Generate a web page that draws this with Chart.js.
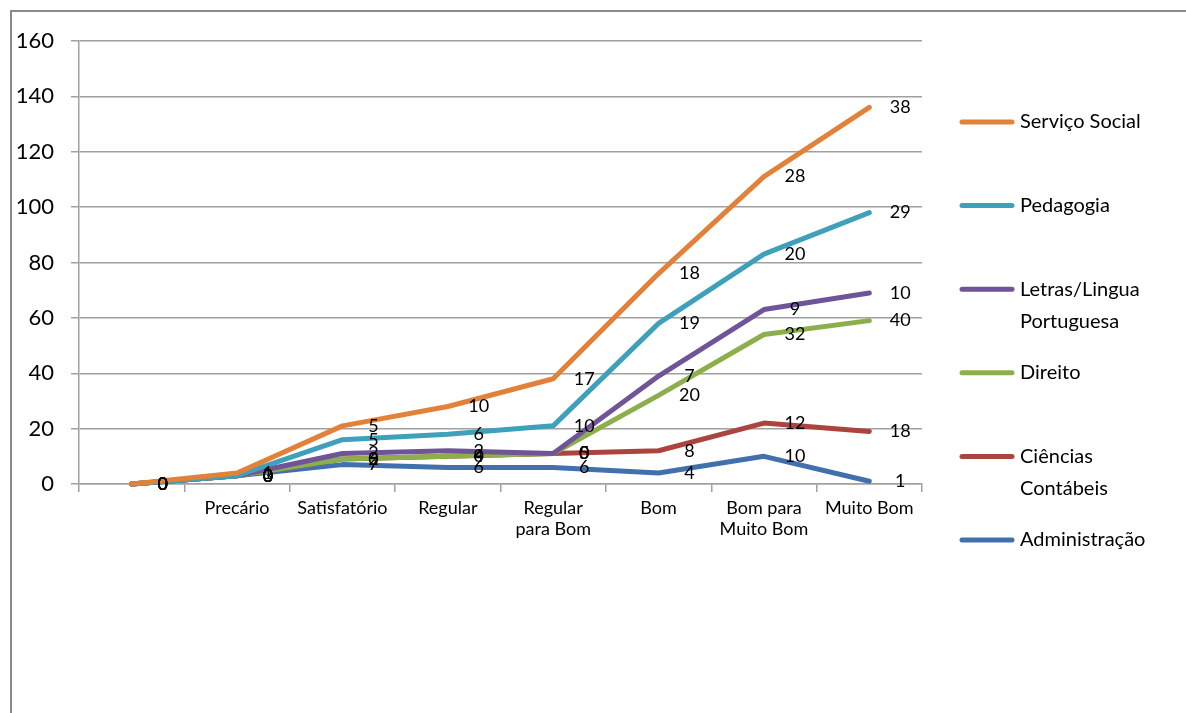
<!DOCTYPE html>
<html>
<head>
<meta charset="utf-8">
<script src="https://cdn.jsdelivr.net/npm/chart.js@4.4.0/dist/chart.umd.min.js"></script>
<style>
  html, body { margin: 0; padding: 0; background: #fff; overflow: hidden; }
  #wrap { position: relative; width: 1186px; height: 713px; }
  #frame { position: absolute; left: 10px; top: 10px; width: 1200px; height: 720px; border: 2px solid #8a8a8a; box-sizing: border-box; }
  canvas { position: absolute; left: 0; top: 0; }
</style>
</head>
<body>
<div id="wrap">
  <div id="frame"></div>
  <canvas id="myChart" width="1186" height="713"></canvas>
</div>
<script>
// Categories (multi-line ones split into lines)
const categories = ['', 'Precário', 'Satisfatório', 'Regular', ['Regular', 'para Bom'], 'Bom', ['Bom para', 'Muito Bom'], 'Muito Bom'];

// Series values, stacked bottom to top
const administracao = [0, 3, 7, 6, 6, 4, 10, 1];
const cienciasContabeis = [0, 0, 2, 4, 5, 8, 12, 18];
const direito = [0, 0, 0, 0, 0, 20, 32, 40];
const letras = [0, 0, 2, 2, 0, 7, 9, 10];
const pedagogia = [0, 0, 5, 6, 10, 19, 20, 29];
const servicoSocial = [0, 1, 5, 10, 17, 18, 28, 38];

const seriesNames = ['Administração', 'Ciências Contábeis', 'Direito', 'Letras/Lingua Portuguesa', 'Pedagogia', 'Serviço Social'];
const seriesData = [administracao, cienciasContabeis, direito, letras, pedagogia, servicoSocial];
const seriesColors = ['#4170ad', '#ab443f', '#8cae4b', '#6f5497', '#3fa0bb', '#e2813a'];

// Y axis ticks
const yMin = 0, yMax = 160, yStep = 20;

const FONT = 'Lato, "Noto Sans", sans-serif';

// draw datasets so later series end up on top (Excel order)
const drawInOrder = {
    id: 'drawInOrder',
    beforeDatasetsDraw(chart) {
        chart.data.datasets.forEach((ds, i) => {
            const meta = chart.getDatasetMeta(i);
            if (!meta.hidden) meta.controller.draw();
        });
        return false;
    }
};

// value labels to the right of each point
const valueLabels = {
    id: 'valueLabels',
    afterDraw(chart) {
        const ctx = chart.ctx;
        ctx.save();
        ctx.font = '18px ' + FONT;
        ctx.fillStyle = '#000';
        ctx.textAlign = 'center';
        ctx.textBaseline = 'middle';
        chart.data.datasets.forEach((ds, i) => {
            chart.getDatasetMeta(i).data.forEach((pt, j) => {
                ctx.fillText(String(ds.data[j]), pt.x + 31, pt.y);
            });
        });
        ctx.restore();
    }
};

// legend on the right, top series first, wrapped text
const sideLegend = {
    id: 'sideLegend',
    afterDraw(chart) {
        const ctx = chart.ctx;
        const x0 = chart.chartArea.right + 40;
        const textX = x0 + 58;
        const maxW = 160;
        const step = 83.6;
        let y = 122;
        ctx.save();
        ctx.font = '20px ' + FONT;
        ctx.textBaseline = 'middle';
        ctx.textAlign = 'left';
        for (let i = chart.data.datasets.length - 1; i >= 0; i--) {
            const ds = chart.data.datasets[i];
            ctx.strokeStyle = ds.borderColor;
            ctx.lineWidth = 5;
            ctx.lineCap = 'round';
            ctx.beginPath();
            ctx.moveTo(x0, y);
            ctx.lineTo(x0 + 50, y);
            ctx.stroke();
            // wrap words
            const words = ds.label.split(' ');
            const lines = [];
            let line = '';
            words.forEach(w => {
                const test = line ? line + ' ' + w : w;
                if (ctx.measureText(test).width > maxW && line) {
                    lines.push(line);
                    line = w;
                } else {
                    line = test;
                }
            });
            lines.push(line);
            ctx.fillStyle = '#000';
            lines.forEach((l, k) => ctx.fillText(l, textX, y + k * 32));
            y += step;
        }
        ctx.restore();
    }
};

const ctx = document.getElementById('myChart').getContext('2d');

const myChart = new Chart(ctx, {
    type: 'line',
    data: {
        labels: categories,
        datasets: seriesNames.map((name, i) => ({
            label: name,
            data: seriesData[i],
            borderColor: seriesColors[i],
            backgroundColor: seriesColors[i],
            borderWidth: 5,
            borderCapStyle: 'round',
            borderJoinStyle: 'round',
            pointRadius: 0,
            tension: 0,
            fill: false
        }))
    },
    options: {
        responsive: false,
        animation: false,
        layout: {
            padding: { top: 41, right: 264, left: 0, bottom: 0 }
        },
        plugins: {
            legend: { display: false },
            tooltip: { enabled: false }
        },
        scales: {
            x: {
                offset: true,
                grid: {
                    offset: true,
                    drawOnChartArea: false,
                    tickLength: 8,
                    color: '#a0a0a0',
                    lineWidth: 1.5
                },
                border: { color: '#a0a0a0', width: 1.5 },
                ticks: {
                    color: '#000',
                    font: { family: FONT, size: 18 },
                    padding: 5,
                    maxRotation: 0,
                    autoSkip: false
                },
                afterFit(scale) { scale.height = 229; }
            },
            y: {
                stacked: true,
                min: yMin,
                max: yMax,
                grid: {
                    color: '#a0a0a0',
                    lineWidth: 1.5,
                    tickLength: 8
                },
                border: { color: '#a0a0a0', width: 1.5 },
                ticks: {
                    stepSize: yStep,
                    color: '#000',
                    font: { family: FONT, size: 22 },
                    padding: 17
                },
                afterFit(scale) { scale.width = 79; }
            }
        }
    },
    plugins: [drawInOrder, valueLabels, sideLegend]
});
</script>
</body>
</html>
